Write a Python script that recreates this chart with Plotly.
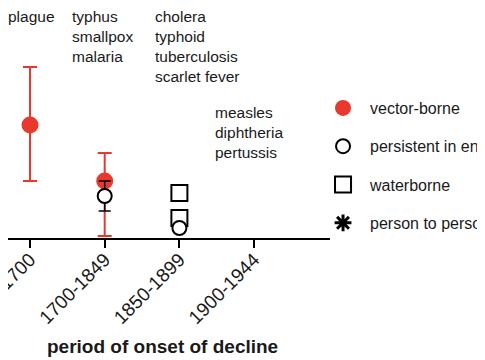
import plotly.graph_objects as go

periods = ["&lt;1700", "1700-1849", "1850-1899", "1900-1944"]
pos = [0, 1, 2, 3]

vector_x = [0, 1]
vector_y = [11.3, 5.7]
vector_up = [5.8, 2.8]
vector_down = [5.6, 5.5]

persist_x = [1, 2]
persist_y = [4.2, 1.0]
persist_up = [1.5, 0]
persist_down = [1.5, 0]

water_x = [2, 2]
water_y = [4.5, 2.0]

person_x = [3]
person_y = [-0.25]

period_diseases = [
    ["plague"],
    ["typhus", "smallpox", "malaria"],
    ["cholera", "typhoid", "tuberculosis", "scarlet fever"],
    ["measles", "diphtheria", "pertussis"],
]

RED = "#E8392F"
FONT = "Liberation Sans, Arial, Helvetica, sans-serif"
INK = "#1a1a1a"

fig = go.Figure()

fig.add_trace(go.Scatter(
    x=vector_x, y=vector_y, mode="markers", name="vector-borne",
    legendgroup="a", legendrank=1, cliponaxis=False,
    marker=dict(color=RED, size=17, symbol="circle"),
    error_y=dict(type="data", array=vector_up, arrayminus=vector_down,
                 color=RED, thickness=2, width=7),
))
fig.add_trace(go.Scatter(
    x=water_x, y=water_y, mode="markers", name="waterborne",
    legendgroup="c", legendrank=3, cliponaxis=False,
    marker=dict(color="white", size=16, symbol="square",
                line=dict(color="black", width=2)),
))
fig.add_trace(go.Scatter(
    x=persist_x, y=persist_y, mode="markers", name="persistent in environment",
    legendgroup="b", legendrank=2, cliponaxis=False,
    marker=dict(color="white", size=14, symbol="circle",
                line=dict(color="black", width=2)),
    error_y=dict(type="data", array=persist_up, arrayminus=persist_down,
                 color="black", thickness=1.5, width=6),
))
fig.add_trace(go.Scatter(
    x=person_x, y=person_y, mode="markers", name="person to person",
    legendgroup="d", legendrank=4, cliponaxis=False,
    marker=dict(color="black", size=14, symbol="asterisk-open",
                line=dict(color="black", width=3)),
))

# disease name annotations above each period
text_x = [None, 0.542, 1.640, 2.456]
text_shift = [2, 2, 2, -94]
for i, names in enumerate(period_diseases):
    if text_x[i] is None:
        ref = dict(x=0, xref="paper", xshift=-2)
    else:
        ref = dict(x=text_x[i], xref="x")
    fig.add_annotation(
        **ref, y=1.0, yref="paper",
        yshift=text_shift[i],
        text="<br>".join(names), showarrow=False, align="left",
        xanchor="left", yanchor="top",
        font=dict(family=FONT, size=15.5, color=INK),
    )

fig.add_annotation(
    x=154.5 / 322, xref="paper", y=-108 / 230, yref="paper",
    text="<b>period of onset of decline</b>", showarrow=False,
    xanchor="center", yanchor="middle",
    font=dict(family=FONT, size=19, color=INK),
)

fig.update_layout(
    width=485, height=360,
    margin=dict(l=0, r=163, t=0, b=130, autoexpand=False),
    paper_bgcolor="white", plot_bgcolor="white",
    font=dict(family=FONT, size=16, color=INK),
    showlegend=True,
    legend=dict(x=0.9566, y=1 - 83 / 230, xanchor="left", yanchor="top",
                tracegroupgap=14.5, font=dict(size=16, family=FONT, color=INK),
                bgcolor="rgba(0,0,0,0)", itemsizing="trace", itemwidth=44),
    xaxis=dict(range=[-0.2945, 4.016], tickmode="array", tickvals=pos,
               ticktext=periods, tickangle=-45, showgrid=False,
               zeroline=False, showline=True, linecolor="black", linewidth=2,
               ticks="outside", ticklen=8, tickwidth=2, tickcolor="black",
               tickfont=dict(family=FONT, size=19, color=INK),
               ticklabeloverflow="allow", ticklabelstandoff=-7,
               automargin=False),
    yaxis=dict(range=[0, 23.0], visible=False, showgrid=False,
               zeroline=False, automargin=False),
)

fig.write_html("out.html")
